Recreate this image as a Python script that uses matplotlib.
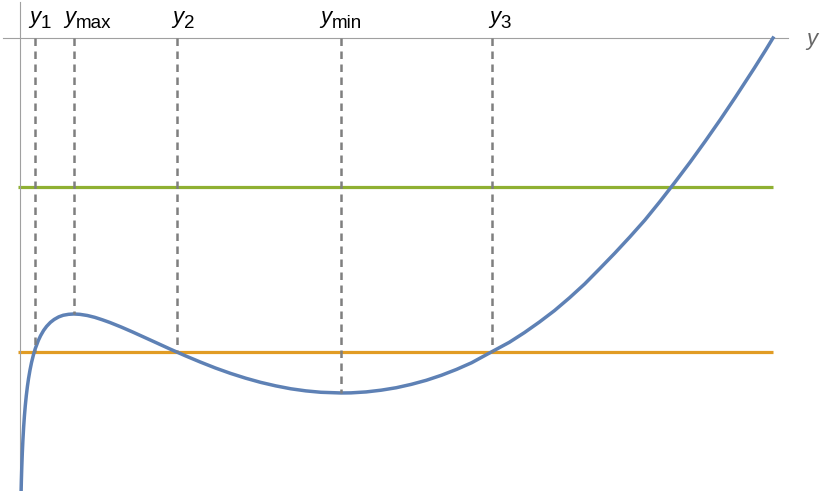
import matplotlib
matplotlib.use("Agg")
import matplotlib.pyplot as plt
from matplotlib.transforms import offset_copy

plt.rcParams["font.family"] = ["Liberation Sans", "DejaVu Sans"]

# curve samples (y along the axis, value below it)
curve_y = [0.02, 0.025, 0.03, 0.037, 0.045, 0.055, 0.065, 0.077, 0.09, 0.105,
           0.12, 0.14, 0.16, 0.185, 0.21, 0.25, 0.28, 0.32, 0.36, 0.41,
           0.46, 0.52, 0.58, 0.65, 0.72, 0.8, 0.9, 1.0, 1.1, 1.2,
           1.35, 1.5, 1.65, 1.8, 2.0, 2.2, 2.4, 2.6, 2.8, 3.0,
           3.2, 3.4, 3.6, 3.8, 4.0, 4.27, 4.4, 4.6, 4.8, 5.0,
           5.2, 5.4, 5.6, 5.8, 6.0, 6.27, 6.5, 6.7, 6.9, 7.1,
           7.3, 7.5, 7.7, 7.9, 8.1, 8.3, 8.5, 8.7, 8.9, 9.1,
           9.3, 9.5, 9.75, 9.9, 10.0]
curve_f = [-39.21, -37.89, -36.82, -35.60, -34.48, -33.34, -32.41, -31.49, -30.66, -29.86,
           -29.18, -28.43, -27.80, -27.15, -26.61, -25.92, -25.51, -25.06, -24.71, -24.37,
           -24.12, -23.90, -23.76, -23.68, -23.65, -23.68, -23.78, -23.94, -24.15, -24.38,
           -24.77, -25.19, -25.63, -26.07, -26.66, -27.23, -27.77, -28.28, -28.74, -29.15,
           -29.51, -29.81, -30.06, -30.24, -30.36, -30.42, -30.41, -30.33, -30.18, -29.97,
           -29.68, -29.33, -28.90, -28.40, -27.83, -26.88, -26.08, -25.25, -24.34, -23.36,
           -22.26, -21.08, -19.77, -18.44, -17.05, -15.60, -14.01, -12.35, -10.64, -8.85,
           -7.00, -5.08, -2.60, -1.06, 0.0]

level_high = -12.79
level_low = -26.88
level_span = [-0.024, 10.0]

mark_names = ["1", "max", "2", "min", "3"]
mark_y = [0.212, 0.727, 2.084, 4.267, 6.277]
mark_f = [-26.88, -23.65, -26.88, -30.42, -26.88]
label_shift_px = [-6.5, -10.5, -4.5, -21.0, -3.5]


def main():
    fig = plt.figure(figsize=(8.21, 4.91), dpi=100)
    ax = fig.add_axes([0, 0, 1, 1])
    ax.set_xlim(-0.2588, 10.637)
    ax.set_ylim(-38.82, 3.256)

    # axes through the origin, Mathematica style
    for side in ("top", "right"):
        ax.spines[side].set_visible(False)
    ax.spines["left"].set_position(("data", 0))
    ax.spines["bottom"].set_position(("data", 0))
    ax.spines["left"].set_bounds(-38.82, 3.1)
    ax.spines["bottom"].set_bounds(-0.22, 10.2)
    for side in ("left", "bottom"):
        ax.spines[side].set_color("#a0a0a0")
        ax.spines[side].set_linewidth(0.8)
    ax.set_xticks([])
    ax.set_yticks([])
    ax.patch.set_visible(False)

    ax.plot(level_span, [level_high, level_high], color="#8FB032", lw=2.3,
            solid_capstyle="butt", zorder=2)
    ax.plot(level_span, [level_low, level_low], color="#E19C24", lw=2.3,
            solid_capstyle="butt", zorder=2)
    ax.plot(curve_y, curve_f, color="#5E81B5", lw=2.5, zorder=3)

    for name, x, f, dx in zip(mark_names, mark_y, mark_f, label_shift_px):
        ax.plot([x, x], [0, f], color="#7f7f7f", lw=1.8, dashes=(3.0, 2.2),
                zorder=4)
        tr = offset_copy(ax.transData, fig=fig, x=dx, y=0, units="dots")
        main_txt = ax.text(x, 1.285, "y", transform=tr, fontsize=16,
                           style="italic", ha="left", va="baseline")
        ax.annotate(name, xy=(1.0, 0.0), xycoords=main_txt, xytext=(0.5, 0),
                    textcoords="offset points", fontsize=13.5,
                    ha="left", va="baseline")

    ax.text(10.438, -0.6, "y", fontsize=16, style="italic", color="#666666",
            ha="left", va="baseline")

    fig.savefig("out.png", dpi=100)


if __name__ == "__main__":
    main()
